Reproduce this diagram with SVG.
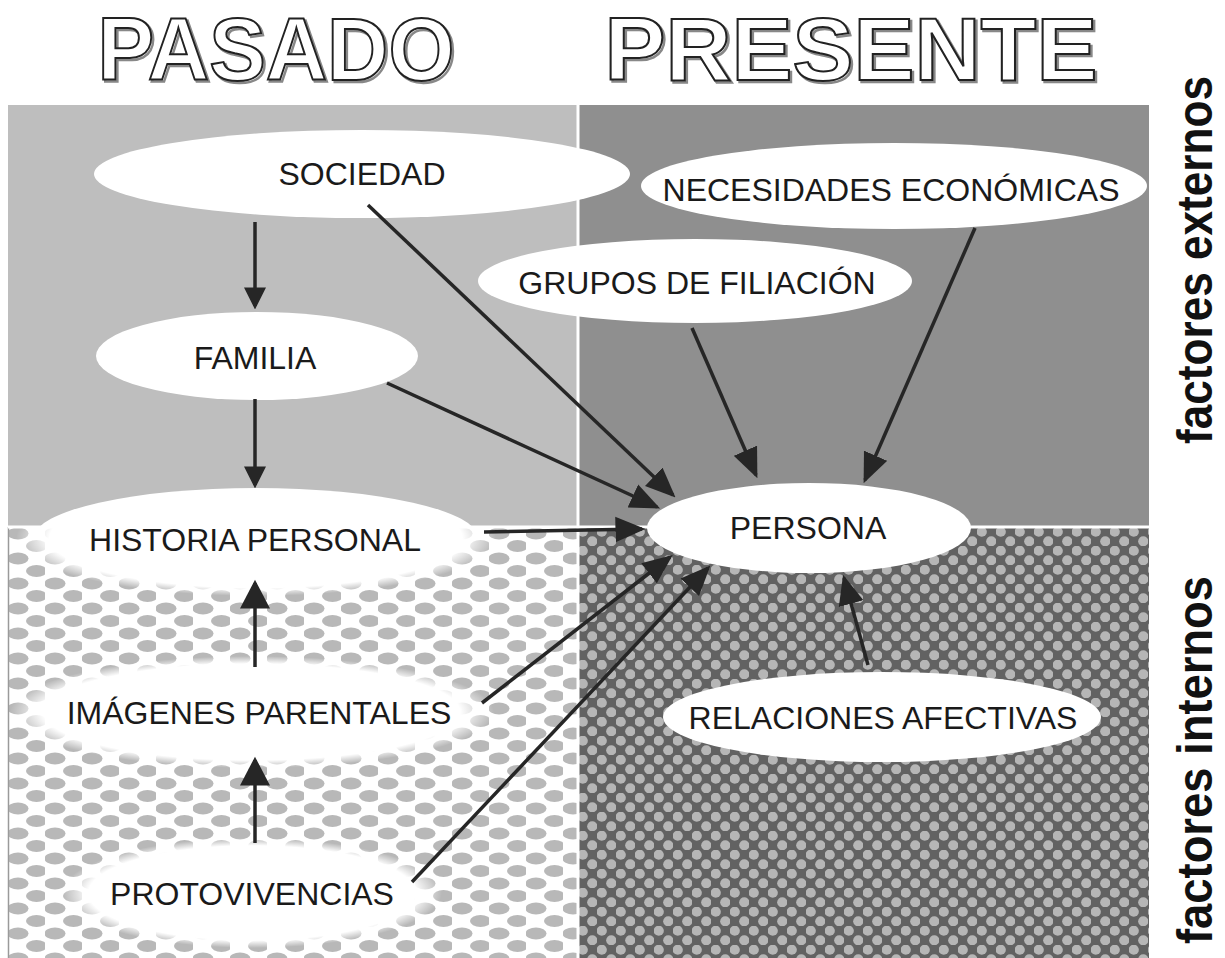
<svg xmlns="http://www.w3.org/2000/svg" width="1225" height="958" viewBox="0 0 1225 958">
<style>
.lbl{font-family:"Liberation Sans",Arial,sans-serif;font-size:32px;fill:#1a1a1a;text-anchor:middle}
.title{font-family:"Liberation Sans",Arial,sans-serif;font-weight:bold;font-size:89px;text-anchor:middle}
.side{font-family:"Liberation Sans Narrow","Liberation Sans",Arial,sans-serif;font-weight:bold;font-size:50px;fill:#111;text-anchor:middle}
.node{fill:#fff}
.con{stroke:#262626;stroke-width:3.5;fill:none}
</style>
<defs>
<pattern id="dotsL" width="37" height="25" patternUnits="userSpaceOnUse" x="8" y="527">
<rect width="37" height="25" fill="#fff"/>
<ellipse cx="10" cy="6.5" rx="10.5" ry="6" fill="#b8b8b8"/>
<ellipse cx="28.5" cy="19" rx="10.5" ry="6" fill="#b8b8b8"/>
</pattern>
<pattern id="dotsR" width="19" height="19" patternUnits="userSpaceOnUse" x="578" y="527">
<rect width="19" height="19" fill="#626262"/>
<circle cx="4.75" cy="4.75" r="5.1" fill="#b6b6b6"/>
<circle cx="14.25" cy="14.25" r="5.1" fill="#b6b6b6"/>
</pattern>
<radialGradient id="fade" cx="0.5" cy="0.5" r="0.5">
<stop offset="0" stop-color="#fff" stop-opacity="1"/>
<stop offset="0.86" stop-color="#fff" stop-opacity="1"/>
<stop offset="1" stop-color="#fff" stop-opacity="0"/>
</radialGradient>
<clipPath id="topClip"><rect x="0" y="0" width="1225" height="527"/></clipPath>
<clipPath id="botClip"><rect x="0" y="527" width="1225" height="431"/></clipPath>
<marker id="ah" markerUnits="userSpaceOnUse" markerWidth="30" markerHeight="26" viewBox="0 0 26 22" refX="23" refY="11" orient="auto">
<path d="M0,0 L26,11 L0,22 Z" fill="#262626"/>
</marker>
<marker id="ahs" markerUnits="userSpaceOnUse" markerWidth="22" markerHeight="22" viewBox="0 0 19 19" refX="16" refY="9.5" orient="auto">
<path d="M0,0 L19,9.5 L0,19 Z" fill="#262626"/>
</marker>
<marker id="ahb" markerUnits="userSpaceOnUse" markerWidth="30" markerHeight="30" viewBox="0 0 26 27" refX="23" refY="13.5" orient="auto">
<path d="M0,0 L26,13.5 L0,27 Z" fill="#262626"/>
</marker>
</defs>
<rect width="1225" height="958" fill="#fff"/>

<g id="titles">
<text class="title" x="278" y="82" textLength="357" lengthAdjust="spacingAndGlyphs" fill="none" stroke="#888" stroke-width="2.5">PASADO</text>
<text class="title" x="276" y="80" textLength="357" lengthAdjust="spacingAndGlyphs" fill="#fff" stroke="#222" stroke-width="2">PASADO</text>
<text class="title" x="853" y="82" textLength="493" lengthAdjust="spacingAndGlyphs" fill="none" stroke="#888" stroke-width="2.5">PRESENTE</text>
<text class="title" x="851" y="80" textLength="493" lengthAdjust="spacingAndGlyphs" fill="#fff" stroke="#222" stroke-width="2">PRESENTE</text>
</g>

<g id="panels">
<rect x="8" y="105" width="570" height="422" fill="#bebebe"/>
<rect x="578" y="105" width="571" height="422" fill="#8f8f8f"/>
<rect x="8" y="527" width="570" height="431" fill="url(#dotsL)"/>
<rect x="578" y="527" width="571" height="431" fill="url(#dotsR)"/>
<line x1="8.5" y1="527" x2="8.5" y2="958" stroke="#9a9a9a" stroke-width="1.5"/>
<line x1="8" y1="527" x2="1152" y2="527" stroke="#fff" stroke-width="3"/>
<line x1="578" y1="98" x2="578" y2="958" stroke="#fff" stroke-width="3"/>
</g>

<g id="side-labels">
<text class="side" transform="translate(1212,260) rotate(-90)" textLength="368" lengthAdjust="spacingAndGlyphs">factores externos</text>
<text class="side" transform="translate(1212,760) rotate(-90)" textLength="368" lengthAdjust="spacingAndGlyphs">factores internos</text>
</g>

<g id="n-sociedad">
<ellipse class="node" cx="362" cy="174" rx="268" ry="44"/>
<text class="lbl" x="362" y="185">SOCIEDAD</text>
</g>
<g id="n-familia">
<ellipse class="node" cx="257" cy="356" rx="161" ry="44"/>
<text class="lbl" x="255" y="369">FAMILIA</text>
</g>
<g id="n-historia">
<ellipse class="node" cx="256" cy="538" rx="222" ry="50" clip-path="url(#topClip)"/>
<ellipse cx="256" cy="538" rx="240" ry="58" fill="url(#fade)" clip-path="url(#botClip)"/>
<text class="lbl" x="255" y="551">HISTORIA PERSONAL</text>
</g>
<g id="n-imagenes">
<ellipse cx="252" cy="712" rx="242" ry="56" fill="url(#fade)"/>
<text class="lbl" x="259" y="724">IMÁGENES PARENTALES</text>
</g>
<g id="n-proto">
<ellipse cx="252" cy="893" rx="190" ry="55" fill="url(#fade)"/>
<text class="lbl" x="252" y="905">PROTOVIVENCIAS</text>
</g>
<g id="n-grupos">
<ellipse class="node" cx="695" cy="281" rx="217" ry="42"/>
<text class="lbl" x="697" y="294">GRUPOS DE FILIACIÓN</text>
</g>
<g id="n-necesidades">
<ellipse class="node" cx="894" cy="186" rx="253" ry="43"/>
<text class="lbl" x="891" y="201">NECESIDADES ECONÓMICAS</text>
</g>
<g id="n-persona">
<ellipse class="node" cx="809" cy="528" rx="162" ry="45"/>
<text class="lbl" x="808" y="539">PERSONA</text>
</g>
<g id="n-relaciones">
<ellipse class="node" cx="882" cy="717" rx="219" ry="45"/>
<text class="lbl" x="883" y="729">RELACIONES AFECTIVAS</text>
</g>

<g id="connectors" class="con">
<line x1="255" y1="222" x2="255" y2="306" marker-end="url(#ahs)"/>
<line x1="255" y1="399" x2="255" y2="485" marker-end="url(#ahs)"/>
<line x1="255" y1="667" x2="255" y2="583" marker-end="url(#ahb)"/>
<line x1="255" y1="843" x2="255" y2="760" marker-end="url(#ahb)"/>
<line x1="368" y1="205" x2="673" y2="495" marker-end="url(#ah)"/>
<line x1="387" y1="383" x2="657" y2="507" marker-end="url(#ah)"/>
<line x1="484" y1="532" x2="642" y2="529" marker-end="url(#ah)"/>
<line x1="692" y1="328" x2="756" y2="475" marker-end="url(#ah)"/>
<line x1="975" y1="228" x2="865" y2="480" marker-end="url(#ah)"/>
<line x1="482" y1="703" x2="670" y2="557" marker-end="url(#ah)"/>
<line x1="412" y1="882" x2="708" y2="568" marker-end="url(#ah)"/>
<line x1="868" y1="665" x2="844" y2="578" marker-end="url(#ah)"/>
</g>
</svg>
